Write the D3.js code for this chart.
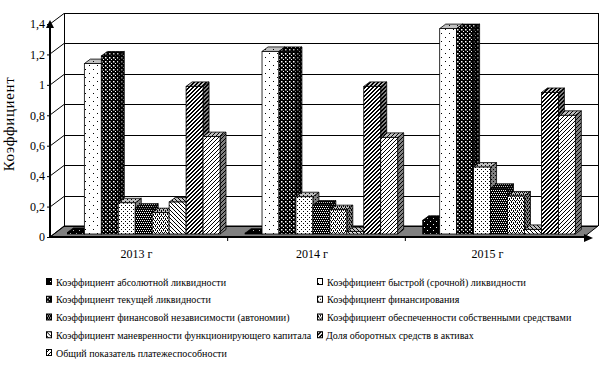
<!DOCTYPE html>
<html>
<head>
<meta charset="utf-8">
<script src="https://cdn.jsdelivr.net/npm/d3@7/dist/d3.min.js"></script>
<style>
  html, body { margin: 0; padding: 0; background: #fff; }
  svg { display: block; }
  text { font-family: "Liberation Serif", serif; fill: #000; }
</style>
</head>
<body>
<svg id="chart" width="608" height="366"></svg>
<script>
// Data
const years = ["2013 г", "2014 г", "2015 г"];
const seriesNames = [
  "Коэффициент абсолютной ликвидности",
  "Коэффициент быстрой (срочной) ликвидности",
  "Коэффициент текущей ликвидности",
  "Коэффициент финансирования",
  "Коэффициент финансовой независимости (автономии)",
  "Коэффициент обеспеченности собственными средствами",
  "Коэффициент маневренности функционирующего капитала",
  "Доля оборотных средств в активах",
  "Общий показатель платежеспособности"
];
const absolute = [0.01, 0.005, 0.09];
const quick = [1.12, 1.2, 1.35];
const current = [1.17, 1.2, 1.35];
const financing = [0.205, 0.245, 0.44];
const autonomy = [0.17, 0.19, 0.3];
const security = [0.14, 0.16, 0.25];
const maneuver = [0.21, 0.015, 0.03];
const turnover = [0.97, 0.97, 0.93];
const overall = [0.64, 0.635, 0.78];
const allSeries = [absolute, quick, current, financing, autonomy, security, maneuver, turnover, overall];
const yTicks = [0, 0.2, 0.4, 0.6, 0.8, 1, 1.2, 1.4];

const svg = d3.select("#chart");
const defs = svg.append("defs");

// Scales
const yScale = d3.scaleLinear().domain([0, 1.4]).range([237, 24]);
const xScale = d3.scaleBand().domain(years).range([50, 583]);
const labelScale = d3.scalePoint().domain(years).range([136, 487]);
const barScale = d3.scaleBand().domain(d3.range(9)).range([17.4, 170]);

const wallDx = 14, wallDy = 11;
const barDx = 6, barDy = 4.5;
const baseShift = 3; // bars stand a little behind the front edge of the floor
const right = 584;

function rect(g, x, y, w, h, color) {
  g.append("rect").attr("x", x).attr("y", y).attr("width", w).attr("height", h)
    .attr("fill", color).attr("shape-rendering", "crispEdges");
}

function dots(g, list, color) {
  list.forEach(d => rect(g, d[0], d[1], 1, 1, color));
}

// Fill patterns: tile size + painter
const patterns = [
  { s: 6, paint: (g, fg, bg) => { rect(g, 0, 0, 6, 6, fg); dots(g, [[1, 2], [4, 5]], bg); } },
  { s: 8, paint: (g, fg, bg) => { rect(g, 0, 0, 8, 8, bg); dots(g, [[1, 1], [5, 5]], fg); } },
  { s: 4, paint: (g, fg, bg) => { rect(g, 0, 0, 4, 4, fg); g.append("rect").attr("x", 1).attr("y", 1).attr("width", 1.5).attr("height", 1.5).attr("fill", bg); dots(g, [[3, 3]], bg); } },
  { s: 4, paint: (g, fg, bg) => { rect(g, 0, 0, 4, 4, bg); dots(g, [[1, 1], [3, 3]], fg); } },
  { s: 4, paint: (g, fg, bg) => { rect(g, 0, 0, 4, 4, fg); dots(g, [[0, 0], [2, 0], [1, 2], [3, 2]], bg); } },
  { s: 4, paint: (g, fg, bg) => { rect(g, 0, 0, 4, 4, bg); dots(g, [[0, 0], [2, 0], [1, 2], [3, 2], [3, 1], [1, 3]], fg); } },
  { s: 4, paint: (g, fg, bg) => { rect(g, 0, 0, 4, 4, bg); d3.range(4).forEach(i => rect(g, i, i, 1, 1, fg)); } },
  { s: 4, paint: (g, fg, bg) => { rect(g, 0, 0, 4, 4, bg); d3.range(4).forEach(i => { rect(g, 3 - i, i, 1, 1, fg); rect(g, (4 - i) % 4, i, 1, 1, fg); }); } },
  { s: 4, paint: (g, fg, bg) => { rect(g, 0, 0, 4, 4, bg); d3.range(4).forEach(i => rect(g, 3 - i, i, 1, 1, fg)); } }
];

const shades = { front: "#ffffff", top: "#c0c0c0", side: "#808080" };
patterns.forEach((p, i) => {
  Object.keys(shades).forEach(k => {
    const pat = defs.append("pattern")
      .attr("id", `p${i}-${k}`)
      .attr("patternUnits", "userSpaceOnUse")
      .attr("width", p.s)
      .attr("height", p.s);
    p.paint(pat, "#000", shades[k]);
  });
});

// Walls and floor
const wallTop = yScale(1.4) - wallDy;
const wallBottom = yScale(0) - wallDy;
svg.append("path")
  .attr("d", `M50,${yScale(0)}L${50 + wallDx},${wallBottom}H${right + wallDx}L${right},${yScale(0)}Z`)
  .attr("fill", "#808080")
  .attr("stroke", "#000");

const grid = svg.append("g");
grid.selectAll(".wall")
  .data(yTicks)
  .join("path")
    .attr("class", "wall")
    .attr("fill", "none")
    .attr("stroke", "#000")
    .attr("d", d => {
      const y = Math.round(yScale(d));
      return `M50,${y}L${50 + wallDx},${Math.round(y - wallDy) + 0.5}H${right + wallDx}`;
    });
svg.append("path")
  .attr("d", `M${50 + wallDx + 0.5},${wallTop}V${wallBottom}M${right + wallDx + 0.5},${wallTop}V${wallBottom}`)
  .attr("stroke", "#000")
  .attr("fill", "none");

// Bars, left to right so a bar's front covers its neighbour's side
allSeries.forEach((values, s) => {
  const g = svg.append("g").attr("class", "series");
  values.forEach((v, c) => {
    const x0 = xScale(years[c]) + barScale(s);
    const x1 = x0 + barScale.bandwidth();
    const y0 = yScale(0) - baseShift;
    const y1 = yScale(v) - baseShift;
    g.append("path")
      .attr("d", `M${x1},${y1}l${barDx},${-barDy}V${y0 - barDy}l${-barDx},${barDy}Z`)
      .attr("fill", `url(#p${s}-side)`).attr("stroke", "#000").attr("stroke-width", 0.8);
    g.append("path")
      .attr("d", `M${x0},${y1}l${barDx},${-barDy}H${x1 + barDx}l${-barDx},${barDy}Z`)
      .attr("fill", `url(#p${s}-top)`).attr("stroke", "#000").attr("stroke-width", 0.8);
    g.append("rect")
      .attr("x", x0).attr("y", y1)
      .attr("width", barScale.bandwidth()).attr("height", y0 - y1)
      .attr("fill", `url(#p${s}-front)`).attr("stroke", "#000").attr("stroke-width", 0.8);
  });
});

// Axes
const yAxis = d3.axisLeft(yScale)
  .tickValues(yTicks)
  .tickSize(3)
  .tickFormat(d => String(d).replace(".", ","));
const yG = svg.append("g").attr("transform", "translate(50,0)").call(yAxis);
yG.attr("font-family", null);
yG.select(".domain").remove();
yG.selectAll("text").attr("font-size", 12).attr("x", -5);
yG.selectAll("line").attr("stroke", "#000");

svg.selectAll(".xtick")
  .data(years.slice(1))
  .join("line")
    .attr("class", "xtick")
    .attr("x1", d => xScale(d)).attr("x2", d => xScale(d))
    .attr("y1", 237).attr("y2", 241)
    .attr("stroke", "#000");

const labelAxis = d3.axisBottom(labelScale).tickSize(0).tickPadding(0);
const xG = svg.append("g").attr("transform", "translate(0,249)").call(labelAxis);
xG.attr("font-family", null);
xG.select(".domain").remove();
xG.selectAll("text").attr("font-size", 12);

svg.append("line").attr("x1", 50).attr("x2", 50).attr("y1", 238).attr("y2", 26)
  .attr("stroke", "#000").attr("stroke-width", 2);
svg.append("path").attr("d", "M50,20L54,28H46Z").attr("fill", "#000");
svg.append("line").attr("x1", 49).attr("x2", 586).attr("y1", 237).attr("y2", 237)
  .attr("stroke", "#000").attr("stroke-width", 2);
svg.append("path").attr("d", "M593,238L584,234V242Z").attr("fill", "#000");

svg.append("text")
  .attr("transform", "translate(14,124) rotate(-90)")
  .attr("text-anchor", "middle")
  .attr("font-size", 15)
  .attr("letter-spacing", 0.6)
  .text("Коэффициент");

// Legend: two columns, filled row by row
const legendX = d3.scalePoint().domain([0, 1]).range([46, 317]);
const legendY = d3.scaleLinear().domain([0, 4]).range([282, 353]);
const legend = svg.selectAll(".legend")
  .data(seriesNames)
  .join("g")
    .attr("class", "legend")
    .attr("transform", (d, i) => `translate(${legendX(i % 2)},${legendY(Math.floor(i / 2))})`);
legend.append("rect")
  .attr("x", 0.5).attr("y", -3.5)
  .attr("width", 5).attr("height", 6)
  .attr("fill", (d, i) => `url(#p${i}-front)`)
  .attr("stroke", "#000");
legend.append("text")
  .attr("x", (d, i) => i === 7 ? 9 : 10)
  .attr("y", 3.5)
  .attr("font-size", 10)
  .text(d => d);
</script>
</body>
</html>
